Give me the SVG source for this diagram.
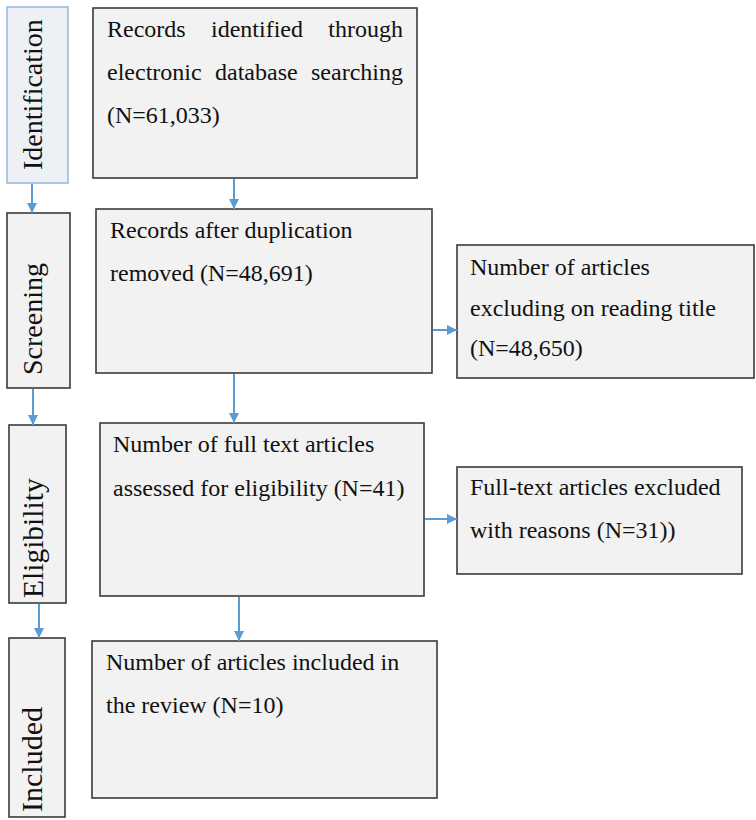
<svg xmlns="http://www.w3.org/2000/svg" width="756" height="820" viewBox="0 0 756 820">
<defs>
<marker id="ah" viewBox="0 0 10 10" refX="10" refY="5" markerWidth="5" markerHeight="5" orient="auto" markerUnits="strokeWidth">
<path d="M0,0 L10,5 L0,10 z" fill="#5b9bd5"/>
</marker>
<style>
.box{fill:#f2f2f2;stroke:#3a3a3a;stroke-width:1.6}
.idbox{fill:#edf1f5;stroke:#9bbcdc;stroke-width:1.6}
.t{font-family:"Liberation Serif","Times New Roman",serif;font-size:24px;fill:#111}
.side{font-family:"Liberation Serif","Times New Roman",serif;font-size:28px;fill:#111}
.conn{stroke:#5b9bd5;stroke-width:2;fill:none;marker-end:url(#ah)}
</style>
</defs>
<rect width="756" height="820" fill="#fff"/>
<g id="side-identification">
<rect class="idbox" x="7" y="7" width="61" height="176"/>
<text class="side" transform="translate(42,170) rotate(-90)">Identification</text>
</g>
<g id="side-screening">
<rect class="box" x="7" y="213" width="63" height="175"/>
<text class="side" transform="translate(42,375) rotate(-90)">Screening</text>
</g>
<g id="side-eligibility">
<rect class="box" x="9" y="425" width="57" height="178"/>
<text class="side" style="font-size:29.5px" transform="translate(43,598) rotate(-90)">Eligibility</text>
</g>
<g id="side-included">
<rect class="box" x="9" y="638" width="56" height="179"/>
<text class="side" style="font-size:30px" transform="translate(42,812) rotate(-90)">Included</text>
</g>
<g id="records-identified">
<rect class="box" x="93" y="8" width="324" height="170"/>
<text class="t" y="37"><tspan x="107">Records</tspan><tspan x="211">identified</tspan><tspan x="403" text-anchor="end">through</tspan></text>
<text class="t" y="80"><tspan x="107">electronic</tspan><tspan x="215">database</tspan><tspan x="403" text-anchor="end">searching</tspan></text>
<text class="t" x="107" y="123">(N=61,033)</text>
</g>
<g id="records-dedup">
<rect class="box" x="96" y="209" width="336" height="164"/>
<text class="t" x="110" y="238">Records after duplication</text>
<text class="t" x="110" y="281">removed (N=48,691)</text>
</g>
<g id="excluded-title">
<rect class="box" x="457" y="245" width="297" height="133"/>
<text class="t" x="470" y="275">Number of articles</text>
<text class="t" x="470" y="316">excluding on reading title</text>
<text class="t" x="470" y="356">(N=48,650)</text>
</g>
<g id="full-text-assessed">
<rect class="box" x="100" y="423" width="324" height="173"/>
<text class="t" x="113" y="452">Number of full text articles</text>
<text class="t" x="113" y="496">assessed for eligibility (N=41)</text>
</g>
<g id="full-text-excluded">
<rect class="box" x="457" y="467" width="285" height="107"/>
<text class="t" x="470" y="495">Full-text articles excluded</text>
<text class="t" x="470" y="538">with reasons (N=31))</text>
</g>
<g id="included-review">
<rect class="box" x="92" y="641" width="345" height="157"/>
<text class="t" x="106" y="670">Number of articles included in</text>
<text class="t" x="106" y="713">the review (N=10)</text>
</g>
<g id="connectors">
<line class="conn" x1="32" y1="184" x2="32" y2="213"/>
<line class="conn" x1="33" y1="389" x2="33" y2="425"/>
<line class="conn" x1="39" y1="604" x2="39" y2="638"/>
<line class="conn" x1="234" y1="179" x2="234" y2="209"/>
<line class="conn" x1="234" y1="374" x2="234" y2="423"/>
<line class="conn" x1="239" y1="597" x2="239" y2="641"/>
<line class="conn" x1="433" y1="330" x2="457" y2="330"/>
<line class="conn" x1="425" y1="519" x2="457" y2="519"/>
</g>
</svg>
